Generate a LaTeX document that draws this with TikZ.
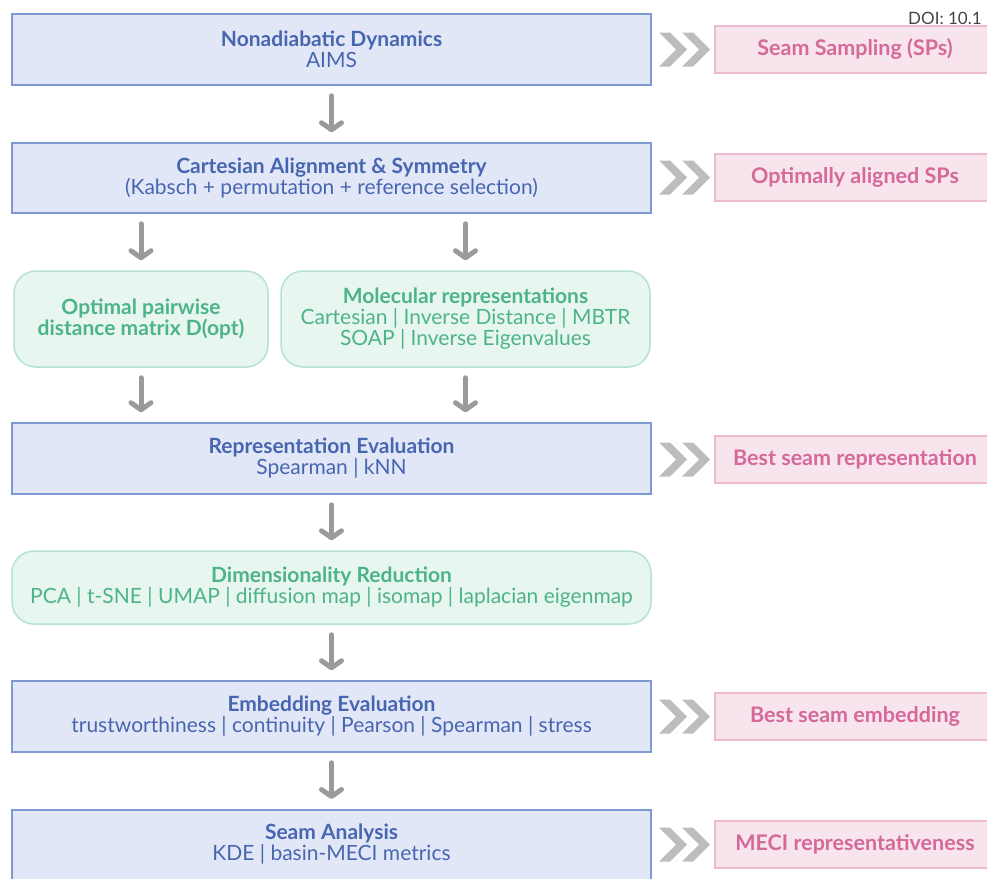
\documentclass[tikz,border=0pt]{standalone}
\usepackage{fontspec}
\setmainfont{Lato}
\usetikzlibrary{arrows.meta,calc}
\definecolor{bluefill}{HTML}{E2E7F8}
\definecolor{blueline}{HTML}{7E9AD2}
\definecolor{bluetext}{HTML}{4766B0}
\definecolor{greenfill}{HTML}{E8F6F0}
\definecolor{greenline}{HTML}{B5E2D1}
\definecolor{greentext}{HTML}{4DB38C}
\definecolor{pinkfill}{HTML}{F8E4EC}
\definecolor{pinkline}{HTML}{EDBBCF}
\definecolor{pinktext}{HTML}{D4699A}
\definecolor{arrowgray}{HTML}{9A9A9A}
\definecolor{chevgray}{HTML}{BDBDBD}
\definecolor{doigray}{HTML}{444444}
\tikzset{
  bluebox/.style={draw=blueline, fill=bluefill, line width=1.5pt, minimum width=639pt,
    align=center, text=bluetext, font=\fontsize{21}{21}\selectfont, inner sep=0pt},
  greenbox/.style={draw=greenline, fill=greenfill, line width=1.5pt, rounded corners=22pt,
    align=center, text=greentext, font=\fontsize{21}{21}\selectfont, inner sep=0pt},
  pinkbox/.style={draw=pinkline, fill=pinkfill, line width=1.5pt, minimum width=280pt,
    minimum height=47pt, text=pinktext, font=\bfseries\fontsize{21.5}{22}\selectfont, inner sep=0pt},
  flow/.style={draw=arrowgray, line width=5pt, line cap=round, line join=round,
    shorten <=10pt, shorten >=10pt,
    -{Straight Barb[length=7pt,width=20pt,line cap=round,line join=round]}},
  chev/.pic={
    \fill[chevgray] (-24,-17) -- (-13,-17) -- (4,0) -- (-13,17) -- (-24,17) -- (-7,0) -- cycle;
    \fill[chevgray] (-1,-17) -- (10,-17) -- (27,0) -- (10,17) -- (-1,17) -- (16,0) -- cycle;
  }
}
\begin{document}
\begin{tikzpicture}[x=1pt,y=-1pt]
\useasboundingbox (0,0) rectangle (987,878);

\node[bluebox, minimum height=71pt] (b1) at (331.5,49.5)
  {\textbf{Nonadiabatic Dynamics}\\AIMS};
\node[bluebox, minimum height=70pt] (b2) at (331.5,178)
  {\textbf{Cartesian Alignment \& Symmetry}\\(Kabsch + permutation + reference selection)};
\node[greenbox, minimum width=254pt, minimum height=96pt] (g1) at (141,319)
  {\textbf{Optimal pairwise}\\\textbf{distance matrix D(opt)}};
\node[greenbox, minimum width=369pt, minimum height=96pt] (g2) at (465.5,319)
  {\textbf{Molecular representations}\\Cartesian | Inverse Distance | MBTR\\SOAP | Inverse Eigenvalues};
\node[bluebox, minimum height=71pt] (b3) at (331.5,458.5)
  {\textbf{Representation Evaluation}\\Spearman | kNN};
\node[greenbox, minimum width=639pt, minimum height=73pt] (g3) at (331.5,587.5)
  {\textbf{Dimensionality Reduction}\\PCA | t-SNE | UMAP | diffusion map | isomap | laplacian eigenmap};
\node[bluebox, minimum height=71pt] (b4) at (331.5,716.5)
  {\textbf{Embedding Evaluation}\\trustworthiness | continuity | Pearson | Spearman | stress};
\node[bluebox, minimum height=82pt, anchor=north] (b5) at (331.5,809)
  {\textbf{Seam Analysis}\\KDE | basin-MECI metrics\\[-4pt]\mbox{}};

\node[pinkbox] (p1) at (855,49.5) {Seam Sampling (SPs)};
\node[pinkbox] (p2) at (855,177.5) {Optimally aligned SPs};
\node[pinkbox] (p3) at (855,459.5) {Best seam representation};
\node[pinkbox] (p4) at (855,716.5) {Best seam embedding};
\node[pinkbox] (p5) at (855,844.5) {MECI representativeness};

\node[anchor=west, text=doigray, font=\fontsize{17}{18}\selectfont, inner sep=0pt] (doi) at (908,18) {DOI: 10.1};

\draw[flow] (b1) -- (b2);
\draw[flow] (b2.south -| g1.north) -- (g1);
\draw[flow] (b2.south -| g2.north) -- (g2);
\draw[flow] (g1) -- (g1 |- b3.north);
\draw[flow] (g2) -- (g2 |- b3.north);
\draw[flow] (b3) -- (g3);
\draw[flow] (g3) -- (b4);
\draw[flow] (b4) -- (b4.south |- b5.north);

\foreach \b/\p in {b1/p1,b2/p2,b3/p3,b4/p4,b5/p5}
  \pic at ($(\b.east |- \p.west)!0.5!(\p.west)$) {chev};
\end{tikzpicture}
\end{document}
